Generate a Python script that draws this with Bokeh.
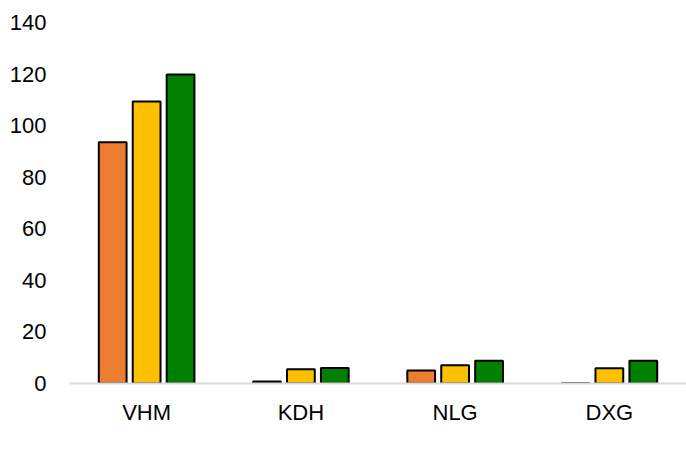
from bokeh.plotting import figure
from bokeh.models import ColumnDataSource, FactorRange, Legend, LegendItem, FixedTicker
from bokeh.transform import dodge
from bokeh.embed import file_html
from bokeh.resources import INLINE

companies = ["VHM", "KDH", "NLG", "DXG"]
series_names = ["2024", "2025F", "2026F"]
values_2024 = [93.6, 0.8, 5.0, 0.1]
values_2025f = [109.4, 5.5, 7.1, 5.9]
values_2026f = [119.8, 6.0, 8.8, 8.8]
y_ticks = [0, 20, 40, 60, 80, 100, 120, 140]

colors = ["#ED7D31", "#FFC000", "#008000"]
offsets = [-0.22, 0.0, 0.22]
FONT = "Liberation Sans"

source = ColumnDataSource(dict(company=companies, s2024=values_2024,
                               s2025f=values_2025f, s2026f=values_2026f))

p = figure(x_range=FactorRange(*companies), y_range=(0, 140),
           frame_width=617, frame_height=361, output_backend="svg", toolbar_location=None,
           min_border_left=69, min_border_right=0, min_border_top=22, min_border_bottom=89)
p.x_range.range_padding = 0
p.outline_line_color = None
p.xgrid.grid_line_color = None
p.ygrid.grid_line_color = None

renderers = []
for col, c, off in zip(["s2024", "s2025f", "s2026f"], colors, offsets):
    r = p.vbar(x=dodge("company", off, range=p.x_range), top=col, width=0.18, bottom=0,
               source=source, fill_color=c, line_color="black", line_width=2)
    renderers.append(r)

p.xaxis.axis_line_color = "#D9D9D9"
p.xaxis.axis_line_width = 2
p.xaxis.major_tick_line_color = None
p.xaxis.major_tick_out = 0
p.xaxis.minor_tick_line_color = None
p.xaxis.major_label_standoff = 16
p.xaxis.major_label_text_font = FONT
p.xaxis.major_label_text_font_size = "22px"
p.xaxis.major_label_text_color = "#000000"

p.yaxis.ticker = FixedTicker(ticks=y_ticks)
p.yaxis.axis_line_color = None
p.yaxis.major_tick_line_color = None
p.yaxis.minor_tick_line_color = None
p.yaxis.major_tick_out = 0
p.yaxis.major_label_standoff = 23
p.yaxis.major_label_text_font = FONT
p.yaxis.major_label_text_font_size = "22px"
p.yaxis.major_label_text_color = "#000000"

legend = Legend(items=[LegendItem(label=n, renderers=[r]) for n, r in zip(series_names, renderers)],
                orientation="horizontal", location="center",
                border_line_color=None, background_fill_alpha=0,
                label_text_font=FONT, label_text_font_size="22px",
                glyph_width=14, glyph_height=14, label_standoff=4, spacing=22,
                padding=0, margin=10)
p.add_layout(legend, "below")

open("out.html", "w").write(file_html(p, INLINE))
